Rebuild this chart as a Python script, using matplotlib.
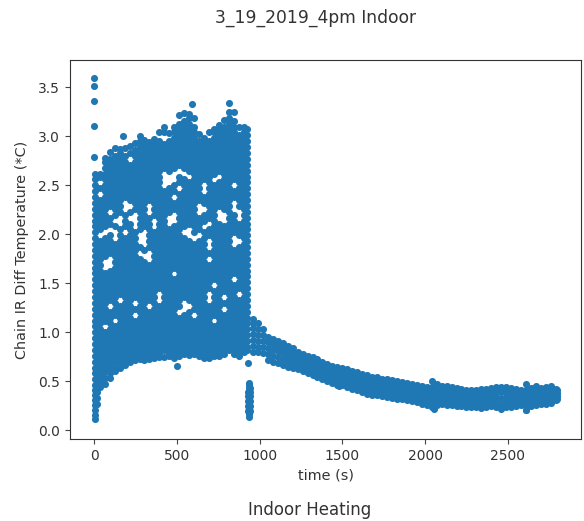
import matplotlib
matplotlib.use("Agg")
import matplotlib.pyplot as plt

title_text = "3_19_2019_4pm Indoor"
caption_text = "Indoor Heating"
x_label = "time (s)"
y_label = "Chain IR Diff Temperature (*C)"
x_ticks = [0, 500, 1000, 1500, 2000, 2500]
y_ticks = [0.0, 0.5, 1.0, 1.5, 2.0, 2.5, 3.0, 3.5]

# Estimated readings: time (s) of each column, temperature in hundredths of a degree
heating_times = [5, 20, 35, 65, 95, 125, 155, 185, 215, 245, 275, 305, 335, 365, 395, 425,
                 455, 485, 515, 545, 575, 605, 635, 665, 695, 725, 755, 785, 815, 845, 875, 905, 925]
heating_temps = [
 [11,16,21,26,31,36,41,46,52,58,64,70,76,82,88,94,100,106,112,118,124,130,136,142,148,154,160,166,172,178,184,190,196,202,208,214,220,226,232,238,244,250,256,262],
 [27,33,39,45,51,57,63,69],
 [44,50,56,62,67,73,79,85,91,97,103,109,115,121,127,133,139,145,151,157,163,169,175,181,187,193,205,211,217,223,229,235,247,259,262],
 [47,53,59,64,70,76,82,88,94,100,112,118,124,130,136,142,148,154,160,178,184,190,196,208,214,220,226,232,238,244,250,256,262,268,274,278],
 [53,58,63,68,73,79,85,91,97,103,109,115,121,133,139,145,151,157,163,181,187,193,199,211,217,229,235,241,247,253,259,265,271,277,284],
 [60,64,70,76,82,88,94,100,106,118,124,130,136,142,148,154,160,166,172,178,184,190,208,220,226,232,238,244,250,256,262,268,274,280,288],
 [64,68,73,79,85,91,97,103,109,115,121,127,139,145,151,157,163,169,175,181,187,193,199,205,223,229,235,241,247,253,259,265,271,277,283,287],
 [67,70,76,82,88,94,100,106,112,118,124,130,136,142,148,154,160,166,172,178,184,190,196,208,214,220,238,244,250,256,262,268,274,280,288],
 [70,73,79,85,91,97,103,109,115,121,127,133,139,145,151,157,163,169,175,181,187,193,199,205,211,223,235,241,247,253,259,265,271,283,290],
 [72,76,82,88,94,100,106,112,124,136,142,148,154,160,166,172,178,184,190,196,202,226,232,238,244,250,256,262,268,274,280,286,293],
 [73,79,85,91,97,103,109,115,121,127,133,139,145,151,157,163,169,175,187,205,211,217,223,229,235,241,247,253,259,265,271,277,283,289,295,300],
 [72,76,82,88,94,100,106,112,118,124,130,136,142,148,154,160,166,172,184,208,214,220,226,232,238,244,250,256,262,268,274,280,286,292,296],
 [73,79,85,91,97,103,109,115,121,133,139,145,151,157,163,169,187,193,199,205,211,217,235,241,247,253,259,265,271,277,283,289,294],
 [74,76,82,88,94,100,106,112,118,124,130,136,142,148,154,160,166,172,178,184,190,196,202,220,226,232,238,244,250,256,262,268,274,280,286,292,297],
 [75,79,85,91,97,103,109,115,121,127,145,151,157,163,169,175,181,187,193,199,205,211,217,223,229,235,241,247,253,259,265,271,277,283,289,295,304],
 [75,82,88,94,100,106,112,118,124,130,136,142,148,154,160,166,172,178,184,190,196,202,208,214,220,226,232,238,244,268,274,280,286,292,304,310],
 [76,79,85,91,97,103,109,115,121,127,133,139,145,151,157,163,169,175,181,187,193,199,205,223,229,235,241,247,265,271,277,283,289,295,303],
 [74,76,82,88,94,100,106,112,118,124,130,136,142,148,154,166,172,178,184,190,196,202,208,226,232,244,250,268,274,280,286,292,298,304,310],
 [76,79,85,91,97,103,109,115,127,133,139,145,151,157,163,169,175,181,187,193,199,205,211,217,223,229,235,241,253,259,271,277,283,289,295,301,307,313,322],
 [78,82,88,94,100,106,112,118,136,142,148,154,160,166,172,178,184,190,196,208,214,220,226,232,238,244,250,256,268,274,280,286,292,298,304,310,316,324],
 [77,79,85,91,97,103,109,115,121,133,139,145,151,157,163,169,175,181,187,193,211,217,223,229,235,241,247,253,265,271,277,283,289,295,301,307,313,319,323],
 [78,82,88,94,100,106,112,124,130,136,142,148,154,160,166,172,178,184,190,202,208,214,220,226,232,238,244,250,256,262,268,274,280,286,292,298,304,310,319],
 [76,79,85,91,97,103,109,115,121,127,133,139,145,151,157,163,169,175,181,187,193,205,211,217,235,241,247,253,259,265,271,277,283,289,295,302],
 [74,76,82,88,94,100,106,112,118,124,130,136,142,148,154,160,166,172,178,184,190,196,202,214,220,232,238,256,262,268,274,280,286,292,298],
 [74,79,85,91,97,103,109,115,121,127,145,151,157,163,169,181,199,205,217,223,229,235,241,247,253,259,265,271,277,283,289,295,304],
 [76,82,88,94,100,106,118,124,130,136,142,154,160,166,172,178,184,190,196,202,208,214,220,226,232,238,244,250,262,268,274,280,286,292,298,304,308],
 [76,79,85,91,97,103,109,115,121,127,133,139,145,151,157,163,169,175,181,187,193,199,205,211,229,235,241,247,253,265,271,277,283,289,295,301,307,312],
 [78,82,88,94,100,106,112,118,130,142,148,154,160,166,172,178,184,190,196,202,208,226,232,238,244,250,256,262,268,274,280,286,292,298,304,310,317],
 [82,85,91,97,103,109,115,121,127,133,139,145,151,157,163,169,175,181,187,193,199,205,211,217,223,229,235,241,247,253,259,265,271,277,283,289,295,301,307,313,319,325,334],
 [78,82,88,94,100,106,112,118,124,130,136,142,148,160,166,172,178,184,202,208,214,220,238,244,256,262,268,274,280,286,292,298,304,310,316,325],
 [76,79,85,91,97,103,109,115,121,127,133,145,151,157,163,169,175,181,187,199,205,211,229,235,241,247,253,259,265,271,277,283,289,295,301,310],
 [80,82,88,94,100,106,112,118,124,130,136,142,148,154,160,166,172,178,184,190,196,202,208,214,220,226,232,238,244,250,256,262,268,274,280,286,292,298,304,310],
 [82,85,91,97,103,109,115,121,127,133,139,145,151,157,163,169,175,181,187,193,199,205,211,217,223,229,235,241,247,253,259,265,271,277,283,289,295,301,308],
]

cooling_times = [960, 990, 1020, 1050, 1080, 1110, 1140, 1170, 1200, 1230, 1260, 1290, 1320, 1350, 1380, 1410,
                 1440, 1470, 1500, 1530, 1560, 1590, 1620, 1650, 1680, 1710, 1740, 1770, 1800, 1830, 1860, 1890,
                 1920, 1950, 1980, 2010, 2040, 2070, 2100, 2130, 2160, 2190, 2220, 2250, 2280, 2310, 2340, 2370,
                 2400, 2430, 2460, 2490, 2520, 2550, 2580, 2610, 2640, 2670, 2700, 2730, 2760, 2790, 2800]
cooling_temps = [
 [80,86,92,98,104,109,114],[80,85,91,97,103,109],[79,85,91,97,103],[72,78,84,90,95],[70,76,82,88,93],
 [69,75,81,86,91],[67,73,79,84,89],[65,71,76,81,86],[63,69,74,79,84],[62,67,72,76,80],
 [60,65,70,74,78],[58,63,67,72,76],[56,61,66,71,75],[54,59,64,69,73],[52,57,62,66,70],
 [50,55,60,64,68],[48,53,58,62,66],[46,51,56,61,65],[46,50,55,59,63],[44,49,53,58,62],
 [42,47,52,56,60],[41,46,50,55,59],[39,44,49,53,57],[37,42,47,52,56],[36,41,46,50,54],
 [36,40,45,50,54],[35,40,44,48,52],[34,39,44,48,52],[33,38,43,47,51],[32,37,41,46,50],
 [32,36,41,45,49],[31,35,40,44,48],[30,34,39,43,47],[29,33,38,42,46],[27,32,37,41,45],
 [26,31,36,40,44],[24,29,34,39,44,50],[26,31,36,41,47],[27,32,36,41,45],[26,31,36,41,45],
 [26,31,35,40,44],[25,30,34,39,43],[25,30,34,38,42],[24,29,33,37,41],[24,29,33,37,41],
 [24,29,33,37,41],[23,28,33,38,42],[24,29,33,38,42],[25,30,34,39,43],[24,29,34,39,44],
 [22,27,33,39,44],[24,29,34,39,44],[24,29,34,39,43],[25,30,34,38,42],[26,30,34,38,41],
 [21,26,31,36,41,47],[25,30,34,39,43],[26,31,36,41,45],[27,31,35,39,43],[27,32,36,40,44],
 [28,33,37,41,45],[31,34,38,42],[32,35,38,41],
]

dip_times = [938, 938, 933, 943, 933, 943, 933, 943, 933, 943, 933, 943, 935, 941, 938, 938]
dip_temps = [13, 17, 20, 20, 25, 25, 30, 30, 35, 35, 39, 39, 43, 43, 46, 48]

stray_times = [2, 2, 2, 2, 2, 178, 500, 930, 590, 1480, 2055, 2610]
stray_temps = [360, 351, 336, 311, 279, 300, 66, 69, 333, 45, 22, 21]

fig = plt.figure(figsize=(5.84, 5.21), dpi=100)
ax = fig.add_axes([70 / 584, 1 - 439 / 521, 511 / 584, 379 / 521])
for t, temps in zip(heating_times + cooling_times, heating_temps + cooling_temps):
    ax.scatter([t] * len(temps), [v / 100 for v in temps], s=26, color="#1f77b4", linewidths=0)
ax.scatter(dip_times, [v / 100 for v in dip_temps], s=26, color="#1f77b4", linewidths=0)
ax.scatter(stray_times, [v / 100 for v in stray_temps], s=26, color="#1f77b4", linewidths=0)

ax.set_xlim(-145, 2942)
ax.set_ylim(-0.09, 3.78)
ax.set_xticks(x_ticks)
ax.set_yticks(y_ticks)
ax.tick_params(labelsize=10, labelcolor="#333333", color="#444444")
for spine in ax.spines.values():
    spine.set_color("#333333")
ax.set_xlabel(x_label, fontsize=10.4, color="#333333")
ax.set_ylabel(y_label, fontsize=10.4, color="#333333")
ax.yaxis.set_label_coords((29 - 70) / 511, 0.499)
fig.text(316 / 584, 1 - 18 / 521, title_text, ha="center", va="center", fontsize=12.3, color="#333333")
fig.text(310 / 584, 1 - 510 / 521, caption_text, ha="center", va="center", fontsize=12, color="#333333")
fig.savefig("out.png", dpi=100)
